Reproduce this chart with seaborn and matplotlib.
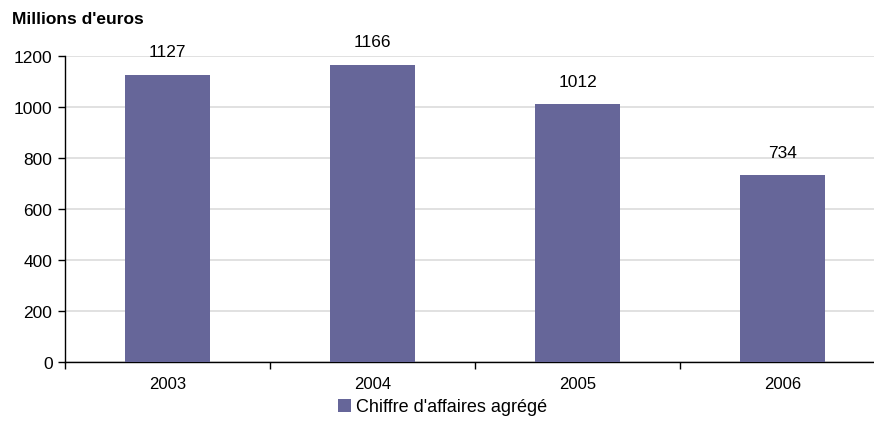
import matplotlib
matplotlib.use("Agg")
import matplotlib.pyplot as plt
import seaborn as sns
import pandas as pd

years = ["2003", "2004", "2005", "2006"]
values = [1127, 1166, 1012, 734]
series_name = "Chiffre d'affaires agrégé"
y_ticks = [0, 200, 400, 600, 800, 1000, 1200]

sns.set_style("white")
plt.rcParams["font.family"] = ["Liberation Sans", "DejaVu Sans"]
plt.rcParams["text.color"] = "black"
plt.rcParams["xtick.color"] = "black"
plt.rcParams["ytick.color"] = "black"

df = pd.DataFrame({"annee": years, "ca": values})

fig = plt.figure(figsize=(8.74, 4.27), dpi=100)
ax = fig.add_axes([65 / 874, 1 - 363 / 427, 820 / 874, 306 / 427])

sns.barplot(data=df, x="annee", y="ca", color="#666699", saturation=1,
            width=0.41, ax=ax, label=series_name, zorder=3, linewidth=0)
if ax.get_legend() is not None:
    ax.get_legend().remove()

ax.set_xlim(-0.5, 3.5)
ax.set_ylim(0, 1200)
ax.set_yticks(y_ticks)
ax.yaxis.grid(True, color="#dcdcdc", linewidth=1.2, zorder=0)
ax.set_axisbelow(True)

for s in ["top", "right"]:
    ax.spines[s].set_visible(False)
for s in ["left", "bottom"]:
    ax.spines[s].set_color("black")
    ax.spines[s].set_linewidth(1)

ax.set_xlabel("")
ax.set_ylabel("")
ax.tick_params(axis="y", direction="out", length=5, width=1, color="black",
               labelsize=12.5, pad=4, left=True, labelcolor="black")
ax.tick_params(axis="x", which="major", length=0, labelsize=12, pad=10,
               labelcolor="black")
ax.set_xticks([-0.5, 0.5, 1.5, 2.5, 3.5], minor=True)
ax.tick_params(axis="x", which="minor", direction="out", length=5, width=1,
               color="black", bottom=True)

ax.bar_label(ax.containers[0], labels=[str(v) for v in values],
             padding=11, fontsize=12.5, color="black", clip_on=False)

fig.text(12 / 874, 1 - 20 / 427, "Millions d'euros", fontsize=12.5,
         fontweight="bold", va="center", ha="left", color="black")

handles, labels = ax.get_legend_handles_labels()
fig.legend(handles, labels, loc="center", bbox_to_anchor=(443 / 874, 1 - 408 / 427),
           frameon=False, fontsize=13, handlelength=0.7, handleheight=0.7,
           handletextpad=0.3, labelcolor="black")

fig.savefig("out.png", dpi=100)
